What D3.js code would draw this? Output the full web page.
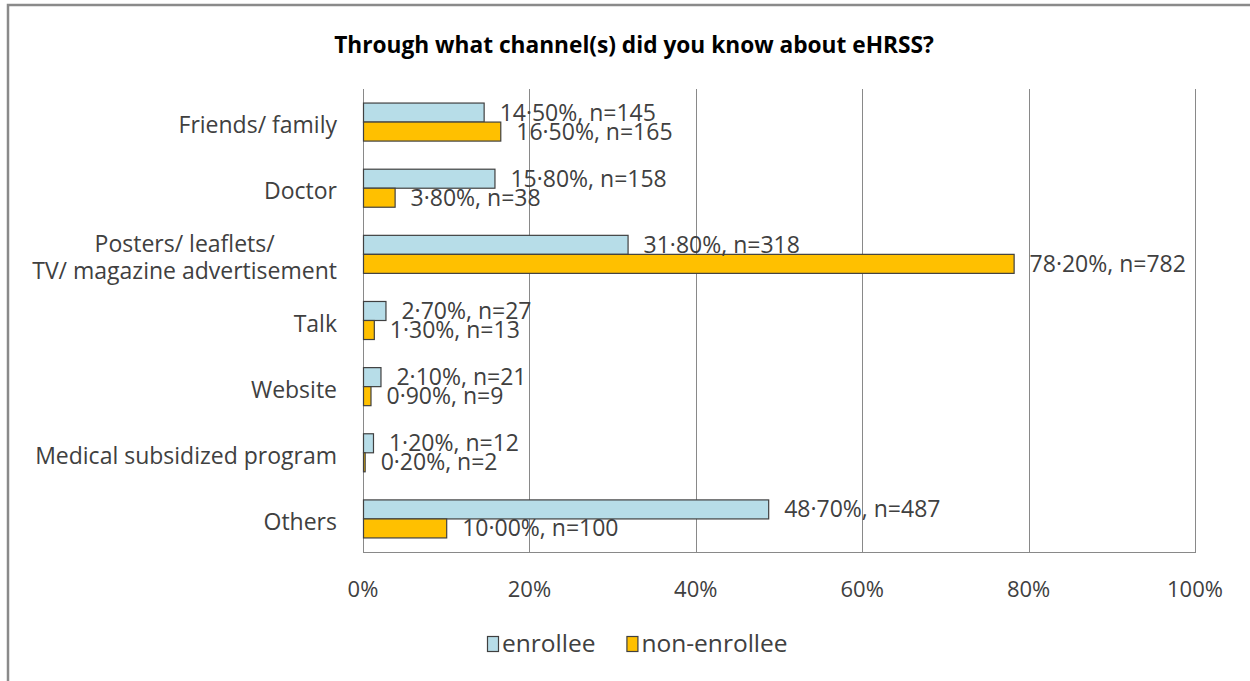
<!DOCTYPE html>
<html>

<head>
	<title>eHRSS channels</title>
	<meta http-equiv="Content-Type" content="text/html; charset=UTF-8">
	<script src="https://cdn.jsdelivr.net/npm/d3@7"></script>
	<style>
		html,
		body {
			margin: 0px;
			padding: 0px;
			background: #fff;
		}

		svg text {
			font-family: "Open Sans", "Liberation Sans", sans-serif;
			fill: #404040;
		}
	</style>
</head>

<body>

	<div id="chart"></div>

	<script>
		// chart data
		var categories = [
			"Friends/ family",
			"Doctor",
			"Posters/ leaflets/\nTV/ magazine advertisement",
			"Talk",
			"Website",
			"Medical subsidized program",
			"Others"
		];
		var seriesNames = ["enrollee", "non-enrollee"];
		var enrolleePct = [14.5, 15.8, 31.8, 2.7, 2.1, 1.2, 48.7];
		var enrolleeN = [145, 158, 318, 27, 21, 12, 487];
		var nonEnrolleePct = [16.5, 3.8, 78.2, 1.3, 0.9, 0.2, 10.0];
		var nonEnrolleeN = [165, 38, 782, 13, 9, 2, 100];
		var xTicks = [0, 20, 40, 60, 80, 100];

		var colors = {
			"enrollee": "#b7dde8",
			"non-enrollee": "#ffc000"
		};

		var width = 1250,
			height = 681;

		var svg = d3.select("#chart").append("svg")
			.attr("width", width)
			.attr("height", height);

		// outer frame (only top and left edges are in view)
		svg.append("path")
			.attr("d", "M8,681 L8,5 L1250,5")
			.attr("fill", "none")
			.attr("stroke", "#8a8a8a")
			.attr("stroke-width", 2.5);

		var plot = { left: 363, right: 1195, top: 89, bottom: 552 };

		var x = d3.scaleLinear().domain([0, 100]).range([plot.left, plot.right]);
		var y = d3.scaleBand().domain(categories)
			.range([plot.top, plot.bottom])
			.paddingInner(0.425)
			.paddingOuter(0.2125);
		var ySub = d3.scaleBand().domain(seriesNames).range([0, y.bandwidth()]);

		// title
		svg.append("text")
			.attr("x", 634)
			.attr("y", 53)
			.attr("text-anchor", "middle")
			.style("font-weight", "bold")
			.style("font-size", "22.7px")
			.style("fill", "#000")
			.text("Through what channel(s) did you know about eHRSS?");

		// vertical gridlines
		svg.append("g").selectAll("line")
			.data(xTicks)
			.join("line")
			.attr("x1", d => Math.round(x(d)) + 0.5)
			.attr("x2", d => Math.round(x(d)) + 0.5)
			.attr("y1", plot.top)
			.attr("y2", plot.bottom)
			.attr("stroke", "#898989")
			.attr("stroke-width", 1);

		// bottom edge of plot
		svg.append("line")
			.attr("x1", plot.left)
			.attr("x2", plot.right + 1)
			.attr("y1", plot.bottom + 0.5)
			.attr("y2", plot.bottom + 0.5)
			.attr("stroke", "#898989");

		// x axis tick labels
		svg.append("g").selectAll("text")
			.data(xTicks)
			.join("text")
			.attr("x", d => x(d))
			.attr("y", 597)
			.attr("text-anchor", "middle")
			.style("font-size", "22px")
			.text(d => d + "%");

		// category labels (multi-line centred as a block, right aligned)
		var catSize = "23px";
		var catG = svg.append("g");
		categories.forEach(function(c) {
			var lines = c.split("\n");
			var cy = y(c) + y.bandwidth() / 2 + 3;
			var t = catG.append("text")
				.style("font-size", catSize)
				.attr("text-anchor", lines.length > 1 ? "middle" : "end");
			if (lines.length === 1) {
				t.attr("x", 337).attr("y", cy + 8).text(c);
			} else {
				// centre of the wider (second) line
				var tmp = catG.append("text").style("font-size", catSize).text(lines[1]);
				var w = tmp.node().getComputedTextLength();
				tmp.remove();
				lines.forEach(function(l, i) {
					t.append("tspan")
						.attr("x", 337 - w / 2)
						.attr("y", cy + 8 + (i - 0.5) * 27)
						.text(l);
				});
			}
		});

		// bars
		var rows = [];
		categories.forEach(function(c, i) {
			rows.push({ cat: c, s: "enrollee", v: enrolleePct[i], n: enrolleeN[i] });
			rows.push({ cat: c, s: "non-enrollee", v: nonEnrolleePct[i], n: nonEnrolleeN[i] });
		});

		svg.append("g").selectAll("rect")
			.data(rows)
			.join("rect")
			.attr("x", x(0) + 0.5)
			.attr("y", d => y(d.cat) + ySub(d.s))
			.attr("width", d => x(d.v) - x(0))
			.attr("height", ySub.bandwidth())
			.attr("fill", d => colors[d.s])
			.attr("stroke", "#404040")
			.attr("stroke-width", 1.2);

		// data labels, e.g. "14·50%, n=145"
		function fmt(v, n) {
			return v.toFixed(2).replace(".", "\u00b7") + "%, n=" + n;
		}
		svg.append("g").selectAll("text")
			.data(rows)
			.join("text")
			.attr("x", d => x(d.v) + 16)
			.attr("y", d => y(d.cat) + ySub(d.s) + ySub.bandwidth() / 2 + 8)
			.style("font-size", "23px")
			.text(d => fmt(d.v, d.n));

		// legend
		var legend = svg.append("g").attr("transform", "translate(487,636)");
		var lx = 0;
		seriesNames.forEach(function(s) {
			var g = legend.append("g").attr("transform", "translate(" + lx + ",0)");
			g.append("rect")
				.attr("x", 0.5)
				.attr("y", 0.5)
				.attr("width", 11)
				.attr("height", 15)
				.attr("fill", colors[s])
				.attr("stroke", "#404040")
				.attr("stroke-width", 1.2);
			var t = g.append("text")
				.attr("x", 15)
				.attr("y", 16)
				.style("font-size", "24.5px")
				.text(s);
			lx += 15 + t.node().getComputedTextLength() + 31;
		});
	</script>

</body>

</html>
